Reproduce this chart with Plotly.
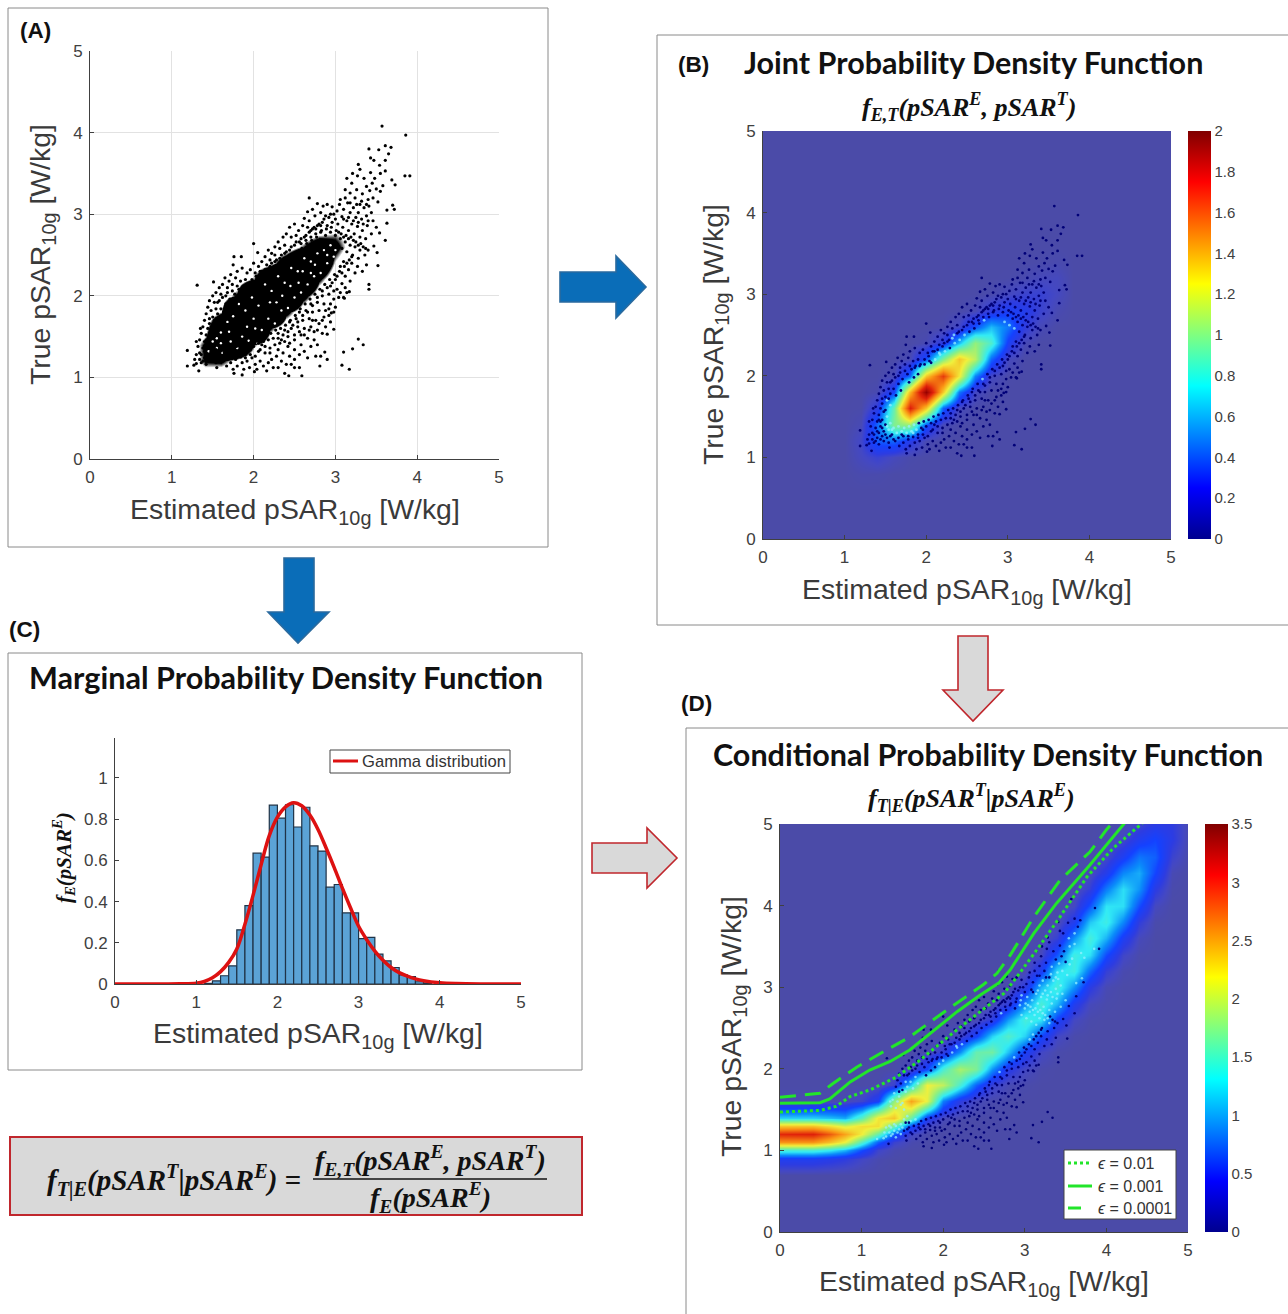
import bisect
import plotly.graph_objects as go

W, H = 1288, 1314
AXIS_TICKS = [0, 1, 2, 3, 4, 5]

# ---------- scatter points (estimated, true) ----------
points_tail = [(3.57,4.08),(3.86,3.97),(3.85,3.47),(3.91,3.47),(3.41,3.80),(3.53,3.79),(3.61,3.84),(3.68,3.82),(3.65,3.74),
(3.43,3.69),(3.47,3.66),(3.54,3.60),(3.61,3.66),(3.28,3.61),(3.30,3.55),(3.21,3.50),(3.14,3.44),(3.27,3.47),(3.35,3.44),
(3.43,3.51),(3.55,3.50),(3.61,3.53),(3.48,3.44),(3.69,3.42),(3.73,3.36),(2.68,3.20),(1.31,2.13),(1.51,2.17),(1.76,2.48),
(1.85,2.48),(2.00,2.64),(2.05,2.53),(1.19,1.33),(1.19,1.14),(1.27,1.15),(1.33,1.08),(1.30,1.44),(1.35,1.60),(3.28,1.47),
(3.34,1.40),(3.21,1.35),(3.10,1.31),(3.08,1.15),(3.17,1.10),(3.41,2.14),(3.41,2.08),(3.52,2.37),(3.38,2.38),(3.51,2.53),
(3.47,2.61),(3.61,2.68),(3.63,2.89),(3.54,2.77),(3.70,3.11),(3.72,3.06),(3.63,3.05),(1.76,1.05),(1.86,1.03),(2.01,1.07),
(2.38,1.05),(2.43,1.02),(2.59,1.02),(2.30,1.12),(2.50,1.12),(2.56,1.12),(2.81,1.14),(2.76,1.26),(2.82,1.26),(2.87,1.31),
(2.90,1.22),(2.78,1.40),(2.90,1.53),(2.98,1.59),(2.94,1.68),(2.95,1.79),(3.11,1.97),(3.17,2.05)]
points_upper = [(3.20,3.38),(3.26,3.30),(3.33,3.25),(3.38,3.34),(3.42,3.29),(3.45,3.38),(3.50,3.31),(3.55,3.28),(3.58,3.35),
(3.40,3.18),(3.46,3.20),(3.52,3.15),(3.30,3.12),(3.24,3.20),(3.18,3.26),(3.12,3.30),(3.15,3.14),(3.22,3.08),(3.28,3.02),
(3.35,3.08),(3.41,3.10),(3.44,3.02),(3.38,2.98),(3.32,2.94),(3.25,2.96),(3.18,3.02),(3.10,3.06),(3.05,3.12),(3.02,3.04),
(2.96,3.09),(2.90,3.12),(2.85,3.10),(2.78,3.13),(2.72,3.06),(2.66,3.03),(2.62,2.95),(2.68,2.92),(2.75,2.98),(2.82,3.02),
(2.88,2.98),(2.94,3.00),(3.00,2.94),(3.08,2.97),(3.14,2.92),(3.20,2.88),(3.27,2.85),(3.33,2.80),(3.39,2.86),(3.46,2.92),
(3.50,2.84),(3.44,2.76),(3.37,2.70),(3.30,2.72),(3.23,2.76),(3.16,2.80),(3.09,2.84),(3.03,2.88),(2.96,2.90),(2.90,2.86),
(2.84,2.90),(2.78,2.86),(2.72,2.82),(2.66,2.84),(2.60,2.86),(2.55,2.80),(2.50,2.88),(2.44,2.84),(2.40,2.76),(2.46,2.72),
(2.52,2.74),(2.58,2.70),(2.64,2.74),(2.70,2.72),(2.76,2.76),(2.82,2.78),(2.88,2.74),(2.94,2.78),(3.00,2.74),(3.06,2.70),
(3.12,2.66),(3.18,2.62),(3.24,2.60),(3.30,2.56),(3.36,2.50),(3.28,2.46),(3.21,2.50),(3.14,2.54),(3.08,2.58),(3.02,2.62),
(2.96,2.66),(3.20,2.40),(3.27,2.36),(3.33,2.30),(3.24,2.28),(3.16,2.32),(3.10,2.42),(3.06,2.36),(3.12,2.24),(3.18,2.18),
(3.08,2.15),(3.00,2.20),(2.94,2.12),(3.02,2.08),(3.12,2.10)]
points_left = [(2.36,2.72),(2.30,2.66),(2.26,2.60),(2.32,2.58),(2.38,2.62),(2.22,2.52),(2.18,2.56),(2.14,2.48),(2.20,2.44),
(2.26,2.50),(2.10,2.42),(2.16,2.38),(2.06,2.36),(2.00,2.40),(1.96,2.32),(2.02,2.28),(1.92,2.28),(1.86,2.34),(1.80,2.30),
(1.75,2.38),(1.72,2.26),(1.78,2.22),(1.84,2.18),(1.90,2.20),(1.70,2.18),(1.65,2.22),(1.62,2.14),(1.68,2.10),(1.74,2.14),
(1.58,2.10),(1.54,2.04),(1.60,2.02),(1.66,2.00),(1.50,2.00),(1.46,1.94),(1.52,1.92),(1.58,1.94),(1.44,1.86),(1.48,1.82),
(1.54,1.84),(1.42,1.78),(1.46,1.72),(1.40,1.70),(1.50,1.74),(1.38,1.62),(1.44,1.60),(1.36,1.54),(1.42,1.52),(1.48,1.56),
(1.34,1.46),(1.40,1.44),(1.46,1.46),(1.52,1.50),(1.32,1.38),(1.38,1.36),(1.44,1.38),(1.50,1.40),(1.56,1.42),(1.30,1.28),
(1.36,1.28),(1.42,1.30),(1.48,1.32),(1.54,1.34),(1.60,1.36),(1.66,1.38),(1.28,1.22),(1.34,1.22),(1.40,1.24),(1.46,1.26),
(1.52,1.24),(1.58,1.28),(1.64,1.30),(1.70,1.32),(1.30,1.17),(1.36,1.18),(1.42,1.16),(1.48,1.20),(1.54,1.18),(1.60,1.22),
(1.66,1.24),(1.72,1.26)]
points_lower = [(1.55,1.12),(1.67,1.14),(1.72,1.18),(1.78,1.22),(1.84,1.25),(1.90,1.28),(1.80,1.14),(1.75,1.10),(1.86,1.18),
(1.92,1.20),(1.98,1.24),(1.88,1.10),(1.95,1.12),(2.02,1.16),(2.08,1.20),(2.04,1.10),(2.12,1.14),(2.18,1.18),(2.16,1.08),
(2.24,1.12),(2.22,1.22),(2.28,1.26),(2.34,1.20),(2.40,1.16),(2.36,1.30),(2.44,1.26),(2.50,1.22),(2.46,1.16),(2.30,1.34),
(2.14,1.30),(2.06,1.32),(2.20,1.36),(2.10,1.40),(1.96,1.34),(2.42,1.38),(2.50,1.34),(2.56,1.28),(2.62,1.32),(2.58,1.40),
(2.66,1.24),(2.70,1.38),(2.34,1.46),(2.42,1.50),(2.50,1.46),(2.58,1.52),(2.66,1.48),(2.74,1.46),(2.30,1.54),(2.38,1.58),
(2.46,1.60),(2.54,1.62),(2.62,1.60),(2.70,1.62),(2.78,1.58),(2.84,1.54),(2.44,1.68),(2.52,1.72),(2.60,1.70),(2.68,1.72),
(2.76,1.70),(2.84,1.70),(2.88,1.62),(2.56,1.80),(2.64,1.82),(2.72,1.80),(2.80,1.82),(2.88,1.82),(2.92,1.76),(2.70,1.90),
(2.78,1.92),(2.86,1.90),(2.94,1.90),(3.00,1.86),(2.98,1.96),(3.04,1.98),(2.84,2.00),(2.92,2.02),(2.98,2.06),(3.06,2.04),
(3.10,1.98),(3.14,2.04)]
points_edge_top = [(1.52,1.70),(1.56,1.78),(1.60,1.84),(1.63,1.76),(1.66,1.90),(1.69,1.82),(1.71,1.96),(1.74,1.88),(1.77,2.02),
(1.79,1.92),(1.82,2.08),(1.85,1.98),(1.87,2.12),(1.90,2.02),(1.93,2.14),(1.95,2.06),(1.98,2.20),(2.00,2.10),(2.03,2.24),
(2.06,2.16),(2.08,2.30),(2.11,2.20),(2.14,2.32),(2.17,2.26),(2.20,2.36),(2.23,2.30),(2.26,2.42),(2.29,2.34),(2.32,2.46),
(2.35,2.40),(2.38,2.52),(2.41,2.44),(2.44,2.56),(2.47,2.50),(2.50,2.62),(2.53,2.54),(2.56,2.66),(2.59,2.58),(2.62,2.72),
(2.65,2.64),(2.68,2.78),(2.71,2.68),(2.74,2.84),(2.77,2.72),(2.80,2.88),(2.83,2.80),(2.86,2.94),(2.89,2.82),(2.92,2.96),
(2.95,2.84),(2.98,3.00),(3.01,2.80),(3.04,2.78),(3.07,2.76),(3.10,2.72),(3.13,2.74),(3.16,2.70),(3.19,2.72),(3.22,2.68),
(3.25,2.66),(3.28,2.62),(3.31,2.64),(3.34,2.60),(3.37,2.58),(3.40,2.56),(3.10,2.94),(3.16,2.96),(3.22,2.92),(3.28,2.90),
(3.34,2.88),(3.40,2.92),(3.06,3.18),(3.12,3.20),(3.18,3.14),(3.26,3.12),(3.32,3.16),(3.38,3.12),(1.56,1.92),(1.62,1.98),
(1.68,2.04),(1.74,2.06),(1.80,2.12),(1.86,2.10),(1.92,2.12),(1.98,2.14),(2.04,2.18),(2.10,2.30),(2.16,2.28),(2.22,2.40),
(2.28,2.44),(2.34,2.50),(2.40,2.54),(2.46,2.60),(2.52,2.66),(2.58,2.64),(2.64,2.68),(2.70,2.80),(2.76,2.82),(2.82,2.86)]
points_edge_low = [(1.70,1.28),(1.73,1.36),(1.76,1.30),(1.79,1.38),(1.82,1.32),(1.85,1.40),(1.88,1.34),(1.91,1.42),(1.94,1.36),
(1.97,1.44),(2.00,1.38),(2.03,1.46),(2.06,1.42),(2.09,1.50),(2.12,1.44),(2.15,1.52),(2.18,1.46),(2.21,1.54),(2.24,1.48),
(2.27,1.58),(2.30,1.48),(2.33,1.60),(2.36,1.52),(2.39,1.64),(2.42,1.56),(2.45,1.70),(2.48,1.64),(2.51,1.76),(2.54,1.68),
(2.57,1.84),(2.60,1.76),(2.63,1.90),(2.66,1.80),(2.69,1.96),(2.72,1.88),(2.75,2.02),(2.78,1.98),(2.81,2.08),(2.84,2.06),
(2.87,2.14),(2.90,2.10),(2.93,2.20),(2.96,2.16),(2.99,2.26),(3.02,2.24),(3.05,2.30),(3.08,2.28),(3.11,2.36),(3.14,2.40),
(3.17,2.44),(3.20,2.48),(1.78,1.26),(1.84,1.30),(1.90,1.24),(1.96,1.28),(2.02,1.26),(2.08,1.34),(2.14,1.38),(2.20,1.30),
(2.26,1.40),(2.32,1.42),(2.38,1.44),(2.44,1.42),(2.50,1.52),(2.56,1.56),(2.62,1.52),(2.68,1.58),(2.74,1.56),(2.80,1.66),
(2.86,1.74),(2.92,1.84),(2.98,1.80),(2.72,1.70),(1.34,1.30),(1.40,1.32),(1.46,1.36),(1.52,1.38),(1.58,1.34),(1.44,1.22),
(1.50,1.28),(1.56,1.26),(1.62,1.20),(1.38,1.20),(1.44,1.44),(1.50,1.58),(1.56,1.64),(1.54,1.72),(1.46,1.66),(1.42,1.46)]
# small white gaps seen inside the dense cloud of panel A
cloud_gaps = [(1.45,1.32),(1.5,1.44),(1.55,1.36),(1.6,1.55),(1.62,1.30),(1.68,1.68),(1.72,1.44),(1.75,1.75),(1.8,1.36),(1.82,1.9),
(1.86,1.5),(1.9,1.82),(1.94,1.45),(1.98,1.98),(2.02,1.6),(2.06,1.88),(2.1,1.58),(2.14,2.14),(2.18,1.72),(2.22,2.06),(2.26,1.66),
(2.3,2.24),(2.34,1.82),(2.38,2.16),(2.42,1.85),(2.46,2.34),(2.5,1.98),(2.54,2.3),(2.58,2.04),(2.62,2.46),(2.66,2.14),(2.7,2.42),
(2.74,2.24),(2.78,2.52),(2.82,2.28),(2.86,2.56),(2.9,2.4),(2.94,2.62),(2.98,2.48),(3.0,2.56),(2.05,1.42),(2.2,1.92),(1.7,1.56),
(2.45,2.12),(2.6,2.3),(2.75,2.38),(2.9,2.5),(1.55,1.48),(1.6,1.42),(2.35,2.0),(2.0,1.72),(2.55,2.16),(2.7,2.28),(1.92,1.62),(2.28,1.92)]
all_points = points_tail + points_upper + points_left + points_lower + points_edge_top + points_edge_low
point_est = [p[0] for p in all_points]
point_true = [p[1] for p in all_points]
gap_est = [p[0] for p in cloud_gaps]
gap_true = [p[1] for p in cloud_gaps]

# ---------- joint density (panel B), read by eye ----------
joint_est = [0, 1.0, 1.2, 1.4, 1.6, 1.8, 2.0, 2.2, 2.4, 2.6, 2.8, 3.0, 3.2, 3.4, 3.6, 3.8, 5]
joint_true = [0, 0.6, 0.8, 1.0, 1.2, 1.4, 1.6, 1.8, 2.0, 2.2, 2.4, 2.6, 2.8, 3.0, 3.2, 3.4, 3.6, 5]
joint_rows = [
 [.008,.007,0,0,0,0,0,0,0,0,0,0,0],
 [.035,.07,.03,.005,0,0,0,0,0,0,0,0,0],
 [.05,.25,.27,.12,.014,0,0,0,0,0,0,0,0],
 [.02,.27,.73,.77,.22,.02,0,0,0,0,0,0,0],
 [.003,.10,.66,1.67,1.14,.26,.03,.001,0,0,0,0,0],
 [0,.012,.19,1.19,2.0,1.12,.30,.04,0,0,0,0,0],
 [0,0,.02,.28,1.14,1.57,1.02,.32,.04,.002,0,0,0],
 [0,0,0,.02,.22,.72,1.14,.87,.27,.033,0,0,0],
 [0,0,0,0,.014,.11,.42,.78,.59,.17,.02,0,0],
 [0,0,0,0,0,.004,.05,.23,.42,.30,.10,.02,0],
 [0,0,0,0,0,0,.003,.02,.10,.17,.137,.066,.014],
 [0,0,0,0,0,0,0,0,.008,.033,.063,.073,.037],
 [0,0,0,0,0,0,0,0,0,.002,.01,.027,.033],
 [0,0,0,0,0,0,0,0,0,0,0,.003,.01],
]
joint_z = [[0]*len(joint_est), [0]*len(joint_est)] + [[0, 0] + r + [0, 0] for r in joint_rows] + [[0]*len(joint_est), [0]*len(joint_est)]

# ---------- conditional density (panel D), read by eye ----------
cond_true = [0, .7, .9, 1.0, 1.1, 1.2, 1.3, 1.4, 1.6, 1.8, 2.0, 2.2, 2.4, 2.6, 2.8, 3.0, 3.2, 3.4, 3.6, 3.8, 4.0, 4.2, 4.4, 4.6, 4.8, 5.0]
cond_by_est = {
 0.0: {.9:.26,1.0:1.0,1.1:2.29,1.2:2.85,1.3:2.0,1.4:.8,1.6:.02},
 0.4: {.9:.26,1.0:1.0,1.1:2.29,1.2:2.9,1.3:2.02,1.4:.8,1.6:.02},
 0.6: {.9:.22,1.0:.9,1.1:2.05,1.2:2.6,1.3:1.85,1.4:.75,1.6:.02},
 0.8: {.9:.17,1.0:.72,1.1:1.72,1.2:2.2,1.3:1.65,1.4:.68,1.6:.03},
 1.0: {.9:.08,1.0:.38,1.1:1.05,1.2:1.75,1.3:1.85,1.4:1.1,1.6:.1},
 1.2: {.9:.02,1.0:.1,1.1:.45,1.2:1.15,1.3:1.85,1.4:1.8,1.6:.3,1.8:.01},
 1.4: {1.0:.02,1.1:.12,1.2:.45,1.3:1.15,1.4:2.0,1.6:1.35,1.8:.12},
 1.6: {1.1:.02,1.2:.08,1.3:.38,1.4:1.15,1.6:2.2,1.8:.8,2.0:.05},
 1.8: {1.2:.01,1.3:.07,1.4:.28,1.6:1.7,1.8:1.75,2.0:.35,2.2:.02},
 2.0: {1.3:.01,1.4:.05,1.6:.55,1.8:1.55,2.0:1.0,2.2:.15,2.4:.01},
 2.2: {1.4:.01,1.6:.18,1.8:1.0,2.0:1.45,2.2:.6,2.4:.07},
 2.4: {1.6:.05,1.8:.45,2.0:1.25,2.2:1.15,2.4:.32,2.6:.03},
 2.6: {1.6:.01,1.8:.13,2.0:.62,2.2:1.2,2.4:.8,2.6:.18,2.8:.02},
 2.8: {1.8:.03,2.0:.22,2.2:.75,2.4:1.05,2.6:.65,2.8:.16,3.0:.02},
 3.0: {1.8:.01,2.0:.07,2.2:.3,2.4:.8,2.6:.98,2.8:.6,3.0:.18,3.2:.03},
 3.2: {2.0:.01,2.2:.08,2.4:.36,2.6:.85,2.8:1.0,3.0:.72,3.2:.28,3.4:.06,3.6:.01},
 3.4: {2.2:.01,2.4:.08,2.6:.32,2.8:.72,3.0:.98,3.2:.84,3.4:.42,3.6:.13,3.8:.02},
 3.6: {2.4:.01,2.6:.07,2.8:.25,3.0:.61,3.2:.95,3.4:.95,3.6:.61,3.8:.25,4.0:.07,4.2:.01},
 3.8: {2.6:.01,2.8:.05,3.0:.19,3.2:.48,3.4:.84,3.6:.98,3.8:.77,4.0:.41,4.2:.15,4.4:.04,4.6:.01},
 4.0: {2.8:.01,3.0:.03,3.2:.14,3.4:.38,3.6:.71,3.8:.94,4.0:.86,4.2:.54,4.4:.23,4.6:.07,4.8:.02},
 4.2: {3.2:.02,3.4:.09,3.6:.28,3.8:.58,4.0:.84,4.2:.84,4.4:.58,4.6:.28,4.8:.09,5.0:.02},
 4.4: {3.4:.01,3.6:.05,3.8:.16,4.0:.39,4.2:.62,4.4:.69,4.6:.52,4.8:.26,5.0:.09},
 4.6: {3.8:.01,4.0:.06,4.2:.19,4.4:.36,4.6:.45,4.8:.36,5.0:.19},
 4.8: {4.2:.01,4.4:.03,4.6:.11,4.8:.19,5.0:.17},
 5.0: {4.6:.01,4.8:.02,5.0:.03},
}
cond_est = list(cond_by_est)
cond_z = [[cond_by_est[e].get(t, 0) for e in cond_est] for t in cond_true]

# ---------- upper-bound curves (panel D) ----------
eps01_est = [0,.49,.69,.86,1.10,1.43,1.72,2.12,2.53,2.74,2.86,3.15,3.43,3.76,4.08,4.45]
eps01_true = [1.47,1.49,1.54,1.66,1.74,1.90,2.11,2.44,2.76,2.92,3.07,3.46,3.86,4.35,4.70,5.02]
eps001_est = [0,.49,.61,.86,1.10,1.35,1.59,1.84,2.17,2.45,2.68,2.82,3.11,3.39,3.80,4.23]
eps001_true = [1.577,1.585,1.63,1.84,1.985,2.09,2.23,2.43,2.70,2.90,3.05,3.21,3.66,4.03,4.50,5.02]
eps0001_est = [0,.49,.65,.94,1.27,1.59,1.96,2.49,2.66,2.82,3.11,3.43,3.80,4.0,4.08]
eps0001_true = [1.65,1.70,1.82,2.02,2.21,2.39,2.66,3.03,3.17,3.39,3.86,4.31,4.66,4.93,5.02]

# ---------- histogram and gamma fit (panel C) ----------
bin_centers = [1.15,1.25,1.35,1.45,1.55,1.65,1.75,1.85,1.95,2.05,2.15,2.25,2.35,2.45,2.55,2.65,2.75,2.85,2.95,3.05,3.15,3.25,3.35,3.45,3.55,3.65,3.75,3.85]
bin_heights = [.003,.015,.04,.088,.263,.38,.635,.616,.868,.805,.87,.762,.858,.67,.645,.47,.483,.345,.345,.22,.226,.145,.112,.08,.044,.036,.011,.005]
gamma_x = [0,.8,1,1.1,1.2,1.3,1.4,1.5,1.6,1.7,1.8,1.9,2,2.1,2.2,2.3,2.4,2.5,2.6,2.7,2.8,2.9,3,3.1,3.2,3.3,3.4,3.5,3.6,3.7,3.8,4,4.2,4.5,5]
gamma_y = [0,.001,.004,.012,.03,.06,.105,.17,.29,.43,.58,.72,.81,.86,.88,.865,.82,.75,.66,.565,.465,.37,.28,.215,.16,.115,.08,.055,.038,.025,.016,.006,.002,0,0]

bar_ticks = [0, .2, .4, .6, .8, 1, 1.2, 1.4, 1.6, 1.8, 2]
cond_ticks = [0, .5, 1, 1.5, 2, 2.5, 3, 3.5]
hist_ticks = [0, .2, .4, .6, .8, 1]

JET = [[0,'rgb(0,0,143)'],[.125,'rgb(0,0,255)'],[.375,'rgb(0,255,255)'],[.625,'rgb(255,255,0)'],[.875,'rgb(255,0,0)'],[1,'rgb(128,0,0)']]
SHOWN = [[0,'rgb(75,75,168)'],[.02,'rgb(68,72,195)'],[.05,'rgb(45,60,225)'],[.1,'rgb(20,65,255)'],[.17,'rgb(10,140,250)'],
         [.25,'rgb(50,235,245)'],[.38,'rgb(140,240,130)'],[.5,'rgb(240,240,60)'],[.65,'rgb(250,150,20)'],[.82,'rgb(225,35,10)'],[1,'rgb(150,0,0)']]
BLACKOUT = [[0,'rgba(0,0,0,0)'],[.09,'rgba(0,0,0,0)'],[.12,'rgba(0,0,0,1)'],[1,'rgba(0,0,0,1)']]


def fx(x):
    return x / W


def fy(y):
    return 1 - y / H


def nearest(grid, v):
    i = bisect.bisect_left(grid, v)
    if i == 0:
        return 0
    if i >= len(grid):
        return len(grid) - 1
    return i if grid[i] - v < v - grid[i - 1] else i - 1


def point_colors(xs, ys, zs, light_from, hide_from):
    out = []
    for x, y in zip(point_est, point_true):
        z = zs[nearest(ys, y)][nearest(xs, x)]
        if z >= hide_from:
            out.append('rgba(0,0,0,0)')
        elif z >= light_from:
            out.append('rgba(150,240,255,0.75)')
        else:
            out.append('rgb(0,0,120)')
    return out


fig = go.Figure()

# Panel A
fig.add_trace(go.Heatmap(x=joint_est, y=joint_true, z=joint_z, zmin=0, zmax=2, zsmooth='best', colorscale=BLACKOUT,
                         showscale=False, xaxis='x', yaxis='y', hoverinfo='skip'))
fig.add_trace(go.Scatter(x=gap_est, y=gap_true, mode='markers', marker=dict(size=2.4, color='white'),
                         showlegend=False, xaxis='x', yaxis='y'))
fig.add_trace(go.Scatter(x=point_est, y=point_true, mode='markers', marker=dict(size=3.2, color='black'),
                         showlegend=False, xaxis='x', yaxis='y'))
# Panel B
fig.add_trace(go.Heatmap(x=joint_est, y=joint_true, z=joint_z, zmin=0, zmax=2, zsmooth='best', colorscale=SHOWN,
                         showscale=False, xaxis='x2', yaxis='y2', hoverinfo='skip'))
fig.add_trace(go.Scatter(x=point_est, y=point_true, mode='markers',
                         marker=dict(size=2.8, color=point_colors(joint_est, joint_true, joint_z, .3, .8)),
                         showlegend=False, xaxis='x2', yaxis='y2'))
fig.add_trace(go.Scatter(x=[None], y=[None], mode='markers', showlegend=False, xaxis='x2', yaxis='y2',
    marker=dict(color=[0], colorscale=JET, cmin=0, cmax=2, showscale=True,
        colorbar=dict(x=fx(1188), xanchor='left', y=fy(131), yanchor='top', lenmode='pixels', len=408,
                      thicknessmode='pixels', thickness=23, xpad=0, ypad=0, outlinewidth=0, tickvals=bar_ticks,
                      ticktext=[f'{t:g}' for t in bar_ticks], ticks='',
                      tickfont=dict(family='Liberation Sans', size=15, color='#404040')))))
# Panel C
fig.add_trace(go.Bar(x=bin_centers, y=bin_heights, width=.1, marker=dict(color='#5BA3D6', line=dict(color='#1F3347', width=1.2)),
                     showlegend=False, xaxis='x3', yaxis='y3'))
fig.add_trace(go.Scatter(x=gamma_x, y=gamma_y, mode='lines', line=dict(color='#DD1111', width=3.5, shape='spline'),
                         name='Gamma distribution', showlegend=False, xaxis='x3', yaxis='y3'))
# Panel D
fig.add_trace(go.Heatmap(x=cond_est, y=cond_true, z=cond_z, zmin=0, zmax=3.5, zsmooth='best', colorscale=SHOWN,
                         showscale=False, xaxis='x4', yaxis='y4', hoverinfo='skip'))
fig.add_trace(go.Scatter(x=point_est, y=point_true, mode='markers',
                         marker=dict(size=2.6, color=point_colors(cond_est, cond_true, cond_z, .45, 1.5)),
                         showlegend=False, xaxis='x4', yaxis='y4'))
GREEN = '#22E52A'
fig.add_trace(go.Scatter(x=eps01_est, y=eps01_true, mode='lines', line=dict(color=GREEN, width=3, dash='dot'),
                         name='ϵ = 0.01', showlegend=False, xaxis='x4', yaxis='y4'))
fig.add_trace(go.Scatter(x=eps001_est, y=eps001_true, mode='lines', line=dict(color=GREEN, width=3),
                         name='ϵ = 0.001', showlegend=False, xaxis='x4', yaxis='y4'))
fig.add_trace(go.Scatter(x=eps0001_est, y=eps0001_true, mode='lines', line=dict(color=GREEN, width=3, dash='16px 9px'),
                         name='ϵ = 0.0001', showlegend=False, xaxis='x4', yaxis='y4'))
fig.add_trace(go.Scatter(x=[None], y=[None], mode='markers', showlegend=False, xaxis='x4', yaxis='y4',
    marker=dict(color=[0], colorscale=JET, cmin=0, cmax=3.5, showscale=True,
        colorbar=dict(x=fx(1205), xanchor='left', y=fy(824), yanchor='top', lenmode='pixels', len=408,
                      thicknessmode='pixels', thickness=23, xpad=0, ypad=0, outlinewidth=0, tickvals=cond_ticks,
                      ticktext=[f'{t:g}' for t in cond_ticks], ticks='',
                      tickfont=dict(family='Liberation Sans', size=15, color='#404040')))))

TICKFONT = dict(family='Liberation Sans', size=17, color='#404040')


def axis(x0, x1, anchor, rng, ticks, grid=False):
    return dict(domain=[fx(x0), fx(x1)], anchor=anchor, range=rng, tickvals=ticks, ticktext=[f'{t:g}' for t in ticks],
                tickfont=TICKFONT, showgrid=grid, gridcolor='#E2E2E2', gridwidth=1, zeroline=False, showline=True,
                linecolor='#404040', linewidth=1, ticks='inside', ticklen=4, tickcolor='#404040', ticklabelstandoff=3)


def yaxis(y_top, y_bottom, anchor, rng, ticks, grid=False):
    a = axis(0, 1, anchor, rng, ticks, grid)
    a['domain'] = [fy(y_bottom), fy(y_top)]
    return a


layout_axes = dict(
    xaxis=axis(90, 499, 'y', [0, 5], AXIS_TICKS, True), yaxis=yaxis(51, 459, 'x', [0, 5], AXIS_TICKS, True),
    xaxis2=axis(763, 1171, 'y2', [0, 5], AXIS_TICKS), yaxis2=yaxis(131, 539, 'x2', [0, 5], AXIS_TICKS),
    xaxis3=axis(115, 521, 'y3', [0, 5], AXIS_TICKS), yaxis3=yaxis(738, 984, 'x3', [0, 1.194], hist_ticks),
    xaxis4=axis(780, 1188, 'y4', [0, 5], AXIS_TICKS), yaxis4=yaxis(824, 1232, 'x4', [0, 5], AXIS_TICKS),
)


def arrow(pts, fill, line):
    path = 'M ' + ' L '.join(f'{fx(x):.5f} {fy(y):.5f}' for x, y in pts) + ' Z'
    return dict(type='path', xref='paper', yref='paper', path=path, fillcolor=fill, line=dict(color=line, width=1.6), layer='above')


def frame(x0, y0, x1, y1, color='#8A8A8A', fill=None, width=1, layer='below'):
    return dict(type='rect', xref='paper', yref='paper', x0=fx(x0), x1=fx(x1), y0=fy(y0), y1=fy(y1),
                line=dict(color=color, width=width), fillcolor=fill or 'rgba(0,0,0,0)', layer=layer)


def rule(x0, x1, y, color='#111', width=1.5, dash='solid'):
    return dict(type='line', xref='paper', yref='paper', x0=fx(x0), x1=fx(x1), y0=fy(y), y1=fy(y),
                line=dict(color=color, width=width, dash=dash), layer='above')


shapes = [
    frame(8, 8, 548, 547), frame(657, 35, 1295, 625), frame(8, 653, 582, 1070), frame(686, 728, 1295, 1320),
    frame(10, 1137, 582, 1215, '#C0272D', '#D9D9D9', 2),
    rule(313, 547, 1179),
    arrow([(560,272),(616,272),(616,256),(646,287),(616,318),(616,302),(560,302)], '#0A6DB8', '#2A6A9E'),
    arrow([(284,558),(314,558),(314,612),(329,612),(298,643),(268,612),(284,612)], '#0A6DB8', '#2A6A9E'),
    arrow([(592,843),(647,843),(647,828),(677,858),(647,888),(647,873),(592,873)], '#D9D9D9', '#C0272D'),
    arrow([(958,636),(988,636),(988,690),(1003,690),(973,721),(943,690),(958,690)], '#D9D9D9', '#C0272D'),
    # legend of panel C
    frame(330, 750, 510, 773, '#444', 'white', 1, 'above'),
    rule(333, 358, 761, '#DD1111', 3),
    # legend of panel D
    frame(1064, 1150, 1176, 1219, '#444', 'white', 1, 'above'),
    rule(1068, 1092, 1163, GREEN, 3, 'dot'),
    rule(1068, 1092, 1186, GREEN, 3),
    rule(1068, 1081, 1208, GREEN, 3),
]


def label(text, x, y, size, family='Liberation Sans', color='#3A3A3A', angle=0, xanchor='center', weight=None, style=None):
    font = dict(family=family, size=size, color=color)
    if weight:
        font['weight'] = weight
    if style:
        font['style'] = style
    return dict(text=text, x=fx(x), y=fy(y), xref='paper', yref='paper', showarrow=False, xanchor=xanchor, yanchor='middle',
                textangle=angle, font=font)


XLAB = 'Estimated pSAR<sub>10g</sub> [W/kg]'
YLAB = 'True pSAR<sub>10g</sub> [W/kg]'
annotations = [
    label('(A)', 18, 31, 22.5, color='#111', xanchor='left', weight='bold'),
    label('(B)', 676, 64, 22.5, color='#111', xanchor='left', weight='bold'),
    label('(C)', 7, 629, 22.5, color='#111', xanchor='left', weight='bold'),
    label('(D)', 679, 703, 22.5, color='#111', xanchor='left', weight='bold'),
    label('Joint Probability Density Function', 742, 62, 30.5, 'Lato', '#111', xanchor='left', weight='bold'),
    label('Marginal Probability Density Function', 27, 677, 30.6, 'Lato', '#111', xanchor='left', weight='bold'),
    label('Conditional Probability Density Function', 711, 754, 30.5, 'Lato', '#111', xanchor='left', weight='bold'),
    label(XLAB, 295, 511, 28.4), label(YLAB, 42, 255, 28.4, angle=-90),
    label(XLAB, 967, 591, 28.4), label(YLAB, 715, 335, 28.4, angle=-90),
    label(XLAB, 318, 1035, 28.4),
    label(XLAB, 984, 1283, 28.4), label(YLAB, 733, 1027, 28.4, angle=-90),
    label('f<sub>E,T</sub>(pSAR<sup>E</sup>, pSAR<sup>T</sup>)', 969, 107, 26, 'Liberation Serif', '#111', weight='bold', style='italic'),
    label('f<sub>T|E</sub>(pSAR<sup>T</sup>|pSAR<sup>E</sup>)', 971, 798, 26, 'Liberation Serif', '#111', weight='bold', style='italic'),
    label('f<sub>E</sub>(pSAR<sup>E</sup>)', 63, 858, 21, 'Liberation Serif', '#111', angle=-90, weight='bold', style='italic'),
    label('f<sub>T|E</sub>(pSAR<sup>T</sup>|pSAR<sup>E</sup>) =', 45, 1180, 29, 'Liberation Serif', '#111', xanchor='left', weight='bold', style='italic'),
    label('f<sub>E,T</sub>(pSAR<sup>E</sup>, pSAR<sup>T</sup>)', 430, 1160, 28, 'Liberation Serif', '#111', weight='bold', style='italic'),
    label('f<sub>E</sub>(pSAR<sup>E</sup>)', 430, 1197, 28, 'Liberation Serif', '#111', weight='bold', style='italic'),
    label('Gamma distribution', 360, 761, 16.6, color='#333', xanchor='left'),
    label('<i>ϵ</i> = 0.01', 1096, 1163, 16, color='#333', xanchor='left'),
    label('<i>ϵ</i> = 0.001', 1096, 1186, 16, color='#333', xanchor='left'),
    label('<i>ϵ</i> = 0.0001', 1096, 1208, 16, color='#333', xanchor='left'),
]

fig.update_layout(
    width=W, height=H, autosize=False, margin=dict(l=0, r=0, t=0, b=0, pad=0, autoexpand=False),
    paper_bgcolor='white', plot_bgcolor='white', showlegend=False,
    shapes=shapes, annotations=annotations,
    **layout_axes,
)

fig.write_html('out.html', config={'displayModeBar': False},
               post_script="document.body.style.margin='0';document.body.style.overflow='hidden';")
